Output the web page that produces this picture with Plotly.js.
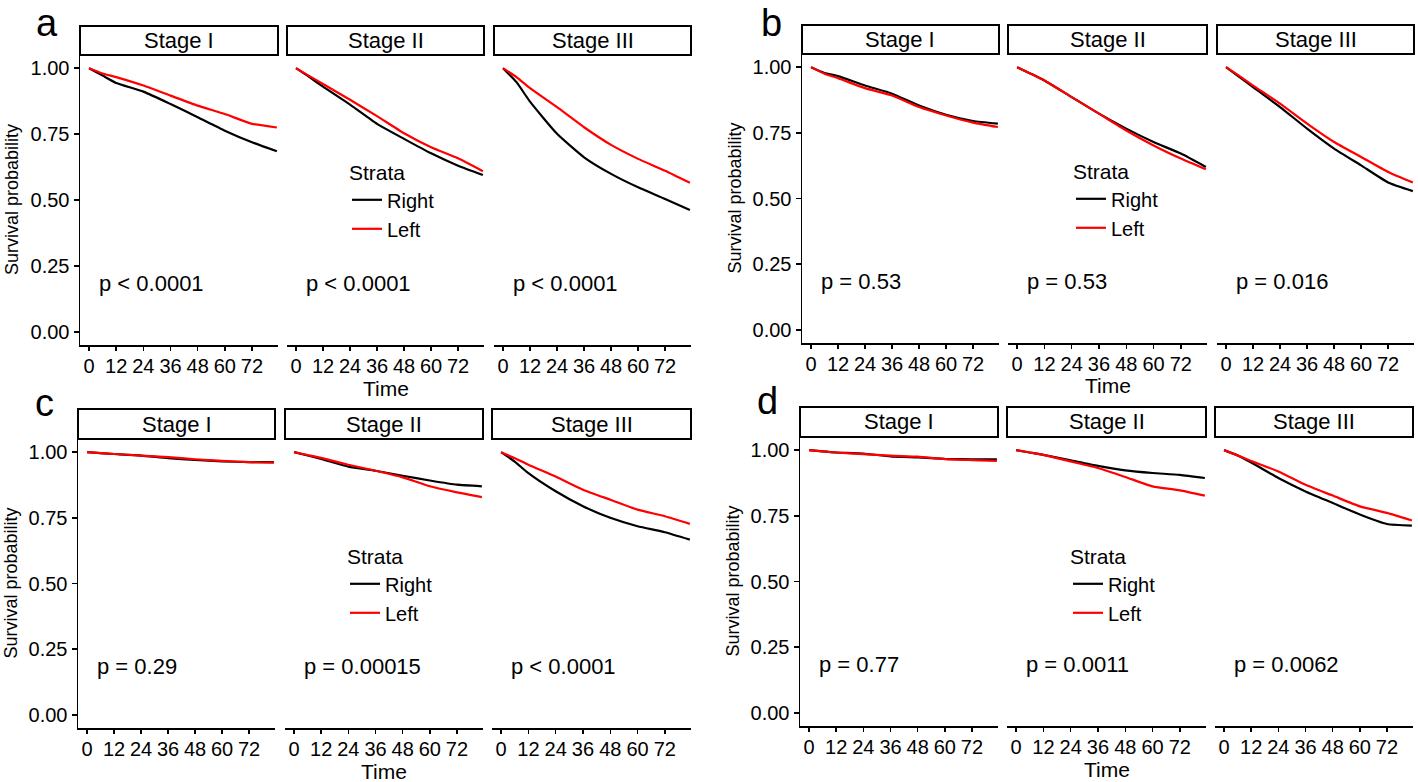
<!DOCTYPE html>
<html>
<head>
<meta charset="utf-8">
<script src="https://cdn.plot.ly/plotly-3.0.1.min.js"></script>
<style>
  html, body { margin: 0; padding: 0; background: #fff; }
  #chart { width: 1418px; height: 782px; }
</style>
</head>
<body>
<div id="chart"></div>
<script>
// survival, months since diagnosis
var months = [0, 6, 12, 24, 36, 48, 60, 72, 83];
var stages = ['Stage I', 'Stage II', 'Stage III'];
var strata = ['Right', 'Left'];
var panelLetters = ['a', 'b', 'c', 'd'];
var timeTicks = [0, 12, 24, 36, 48, 60, 72];
var survTicks = [0, 0.25, 0.5, 0.75, 1];
var survTickText = ['0.00', '0.25', '0.50', '0.75', '1.00'];

// panel a
var aRight1 = [1, 0.972, 0.944, 0.911, 0.864, 0.814, 0.763, 0.719, 0.685];
var aLeft1  = [1, 0.980, 0.966, 0.934, 0.896, 0.858, 0.826, 0.789, 0.775];
var aRight2 = [1, 0.966, 0.930, 0.862, 0.789, 0.732, 0.677, 0.630, 0.595];
var aLeft2  = [1, 0.970, 0.940, 0.880, 0.818, 0.753, 0.700, 0.658, 0.609];
var aRight3 = [1, 0.947, 0.873, 0.751, 0.662, 0.599, 0.548, 0.504, 0.462];
var aLeft3  = [1, 0.966, 0.924, 0.852, 0.776, 0.709, 0.656, 0.611, 0.565];
// panel b
var bRight1 = [1, 0.978, 0.966, 0.930, 0.899, 0.854, 0.819, 0.795, 0.785];
var bLeft1  = [1, 0.975, 0.958, 0.920, 0.892, 0.848, 0.816, 0.789, 0.772];
var bRight2 = [1, 0.975, 0.949, 0.886, 0.823, 0.766, 0.715, 0.671, 0.620];
var bLeft2  = [1, 0.975, 0.949, 0.886, 0.823, 0.759, 0.702, 0.652, 0.611];
var bRight3 = [1, 0.962, 0.924, 0.848, 0.766, 0.690, 0.626, 0.561, 0.528];
var bLeft3  = [1, 0.966, 0.930, 0.861, 0.785, 0.715, 0.658, 0.601, 0.561];
// panel c
var cRight1 = [1, 0.996, 0.993, 0.987, 0.977, 0.970, 0.965, 0.962, 0.962];
var cLeft1  = [1, 0.996, 0.993, 0.987, 0.981, 0.973, 0.967, 0.962, 0.960];
var cRight2 = [1, 0.987, 0.974, 0.945, 0.929, 0.910, 0.892, 0.876, 0.870];
var cLeft2  = [1, 0.989, 0.978, 0.952, 0.929, 0.904, 0.870, 0.847, 0.829];
var cRight3 = [1, 0.964, 0.920, 0.851, 0.794, 0.750, 0.718, 0.695, 0.667];
var cLeft3  = [1, 0.977, 0.952, 0.907, 0.857, 0.819, 0.781, 0.756, 0.727];
// panel d
var dRight1 = [1, 0.995, 0.991, 0.987, 0.976, 0.972, 0.967, 0.965, 0.965];
var dLeft1  = [1, 0.995, 0.991, 0.985, 0.979, 0.975, 0.966, 0.962, 0.959];
var dRight2 = [1, 0.991, 0.982, 0.961, 0.940, 0.923, 0.913, 0.906, 0.894];
var dLeft2  = [1, 0.991, 0.982, 0.957, 0.932, 0.898, 0.862, 0.847, 0.827];
var dRight3 = [1, 0.980, 0.953, 0.894, 0.843, 0.799, 0.755, 0.719, 0.713];
var dLeft3  = [1, 0.980, 0.959, 0.919, 0.868, 0.827, 0.786, 0.761, 0.732];

var pvals = [
  ['p < 0.0001', 'p < 0.0001', 'p < 0.0001'],
  ['p = 0.53', 'p = 0.53', 'p = 0.016'],
  ['p = 0.29', 'p = 0.00015', 'p < 0.0001'],
  ['p = 0.77', 'p = 0.0011', 'p = 0.0062']
];

var curves = [
  [[aRight1, aLeft1], [aRight2, aLeft2], [aRight3, aLeft3]],
  [[bRight1, bLeft1], [bRight2, bLeft2], [bRight3, bLeft3]],
  [[cRight1, cLeft1], [cRight2, cLeft2], [cRight3, cLeft3]],
  [[dRight1, dLeft1], [dRight2, dLeft2], [dRight3, dLeft3]]
];

// page geometry in pixels
var W = 1418, H = 782;
var geom = [
  {cols: [[80, 278], [287, 484], [494, 691]], strip: [26, 55], plot: [55, 345], letter: [47, 0], ytitle: 12, legend: [347, 153]},
  {cols: [[802, 999], [1008, 1207], [1217, 1414]], strip: [25, 54], plot: [54, 343], letter: [771, 0], ytitle: 734, legend: [1071, 152]},
  {cols: [[78, 275], [285, 483], [492, 691]], strip: [409, 439], plot: [439, 728], letter: [44, 380], ytitle: 10, legend: [345, 537]},
  {cols: [[800, 998], [1007, 1206], [1215, 1413]], strip: [407, 437], plot: [437, 726], letter: [767, 378], ytitle: 732, legend: [1068, 537]}
];
var colors = ['#000000', '#FF0000'];
var FONT = '"Liberation Sans", Arial, sans-serif';

function fx(x) { return x / W; }
function fy(y) { return 1 - y / H; }

var data = [];
var layout = {
  width: W, height: H,
  margin: {l: 0, r: 0, t: 0, b: 0},
  paper_bgcolor: '#fff', plot_bgcolor: '#fff',
  hovermode: false,
  font: {family: FONT, color: '#000'},
  shapes: [], annotations: []
};

for (var p = 0; p < 4; p++) {
  var g = geom[p];
  var legendId = p === 0 ? 'legend' : 'legend' + (p + 1);
  for (var f = 0; f < 3; f++) {
    var n = p * 3 + f + 1;
    var sfx = n === 1 ? '' : String(n);
    for (var s = 0; s < 2; s++) {
      data.push({
        x: months, y: curves[p][f][s],
        name: strata[s],
        type: 'scatter', mode: 'lines',
        line: {color: colors[s], width: 2.2, shape: 'spline', smoothing: 0.5},
        xaxis: 'x' + sfx, yaxis: 'y' + sfx,
        legend: legendId,
        showlegend: f === 1
      });
    }
    var col = g.cols[f];
    layout['xaxis' + sfx] = {
      domain: [fx(col[0]), fx(col[1])], anchor: 'y' + sfx,
      range: [-4, 83.5], fixedrange: true,
      showgrid: false, zeroline: false,
      showline: true, linecolor: '#000', linewidth: 1.5,
      ticks: 'outside', ticklen: 4, tickwidth: 1.5, tickcolor: '#000',
      tickvals: timeTicks, ticktext: timeTicks.map(String),
      tickangle: 0, ticklabelstandoff: -2,
      tickfont: {family: FONT, size: 20, color: '#000'}
    };
    layout['yaxis' + sfx] = {
      domain: [fy(g.plot[1]), fy(g.plot[0])], anchor: 'x' + sfx,
      range: [-0.05, 1.05], fixedrange: true,
      showgrid: false, zeroline: false,
      showline: f === 0, linecolor: '#000', linewidth: 1.5,
      ticks: f === 0 ? 'outside' : '', ticklen: 5, tickwidth: 1.5, tickcolor: '#000',
      showticklabels: f === 0,
      tickvals: survTicks, ticktext: survTickText,
      tickfont: {family: FONT, size: 20, color: '#000'}
    };
    // strip
    layout.shapes.push({
      type: 'rect', xref: 'paper', yref: 'paper',
      x0: fx(col[0]), x1: fx(col[1]), y0: fy(g.strip[1]), y1: fy(g.strip[0]),
      line: {color: '#000', width: 2}, fillcolor: '#fff'
    });
    layout.annotations.push({
      xref: 'paper', yref: 'paper',
      x: fx((col[0] + col[1]) / 2), y: fy((g.strip[0] + g.strip[1]) / 2),
      xanchor: 'center', yanchor: 'middle', showarrow: false,
      text: stages[f], font: {size: 22}
    });
    // p-value
    layout.annotations.push({
      xref: 'x' + sfx, yref: 'y' + sfx, x: 3.5, y: 0.185,
      xanchor: 'left', yanchor: 'middle', showarrow: false,
      text: pvals[p][f], font: {size: 22}
    });
  }
  // panel letter
  layout.annotations.push({
    xref: 'paper', yref: 'paper', x: fx(g.letter[0]), y: fy(g.letter[1]),
    xanchor: 'center', yanchor: 'top', showarrow: false,
    text: panelLetters[p], font: {size: 38}
  });
  // axis titles
  layout.annotations.push({
    xref: 'paper', yref: 'paper', x: fx(g.ytitle), y: fy((g.plot[0] + g.plot[1]) / 2),
    xanchor: 'center', yanchor: 'middle', showarrow: false, textangle: -90,
    text: 'Survival probability', font: {size: 18}
  });
  layout.annotations.push({
    xref: 'paper', yref: 'paper', x: fx((g.cols[1][0] + g.cols[1][1]) / 2), y: fy(g.plot[1] + 43),
    xanchor: 'center', yanchor: 'middle', showarrow: false,
    text: 'Time', font: {size: 21}
  });
  layout[legendId] = {
    x: fx(g.legend[0]), y: fy(g.legend[1]), xanchor: 'left', yanchor: 'top',
    xref: 'paper', yref: 'paper',
    bgcolor: 'rgba(0,0,0,0)', borderwidth: 0,
    title: {text: 'Strata', font: {size: 21}, side: 'top'},
    font: {size: 20}, itemwidth: 30, tracegroupgap: 0
  };
}

Plotly.newPlot('chart', data, layout, {displayModeBar: false, staticPlot: true});
</script>
</body>
</html>
